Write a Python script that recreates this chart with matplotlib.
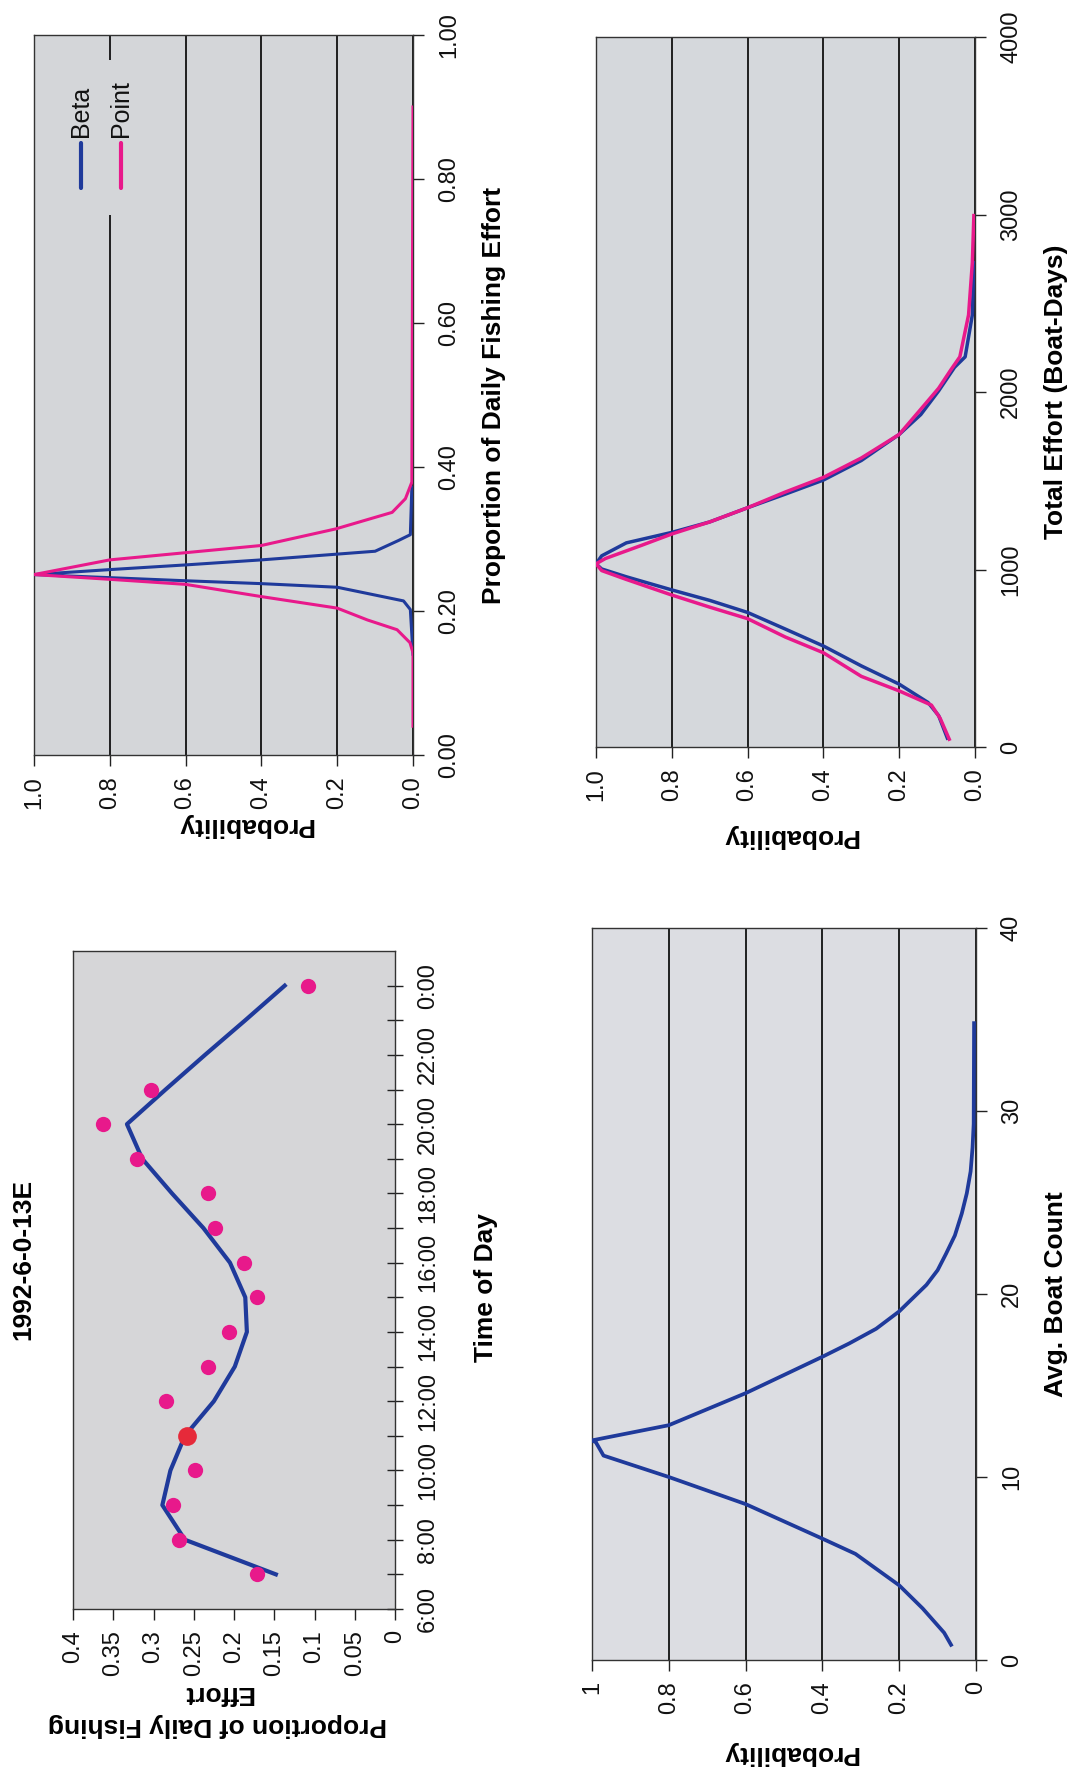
import matplotlib
matplotlib.use('Agg')
import matplotlib.pyplot as plt
from matplotlib.patches import Rectangle
from matplotlib.lines import Line2D

plt.rcParams['font.family'] = ['Liberation Sans', 'DejaVu Sans']

W, H, DPI = 1074, 1771, 100
BLUE = '#1f3a9b'
PINK = '#e8198b'
RED = '#e62a3a'

# ---------------- data ----------------
series_names = ['Beta', 'Point']

# Panel A: proportion of daily fishing effort
propA_beta_x = [0.14, 0.202, 0.214, 0.233, 0.238, 0.242, 0.2506, 0.2575, 0.264, 0.271, 0.279, 0.283, 0.298, 0.306, 0.372]
propA_beta_p = [0.0, 0.007, 0.025, 0.20, 0.40, 0.60, 1.0, 0.80, 0.60, 0.40, 0.20, 0.10, 0.038, 0.007, 0.003]
propA_point_x = [0.04, 0.142, 0.156, 0.174, 0.1875, 0.204, 0.22, 0.237, 0.244, 0.2506, 0.271, 0.281, 0.291, 0.314, 0.337, 0.356, 0.379, 0.90]
propA_point_p = [0.0, 0.0, 0.008, 0.042, 0.12, 0.20, 0.40, 0.60, 0.80, 1.0, 0.80, 0.60, 0.40, 0.204, 0.055, 0.02, 0.003, 0.0]

# Panel B: total effort (boat-days)
effB_beta_x = [50, 177, 251, 354, 457, 569, 664, 758, 826, 885, 959, 1003, 1032, 1077, 1150, 1209, 1268, 1348, 1425, 1504, 1614, 1761, 1873, 2006, 2139, 2198, 2434, 2729]
effB_beta_p = [0.073, 0.096, 0.124, 0.20, 0.30, 0.40, 0.50, 0.60, 0.70, 0.80, 0.92, 0.985, 1.0, 0.985, 0.92, 0.80, 0.70, 0.60, 0.50, 0.40, 0.30, 0.20, 0.143, 0.096, 0.054, 0.026, 0.007, 0.003]
effB_point_x = [44, 162, 236, 316, 398, 531, 619, 723, 788, 856, 944, 994, 1032, 1062, 1136, 1200, 1268, 1348, 1437, 1519, 1628, 1761, 1903, 2021, 2124, 2198, 2434, 2729, 2994]
effB_point_p = [0.068, 0.092, 0.115, 0.20, 0.30, 0.40, 0.50, 0.60, 0.70, 0.80, 0.92, 0.985, 1.0, 0.975, 0.88, 0.80, 0.70, 0.60, 0.50, 0.40, 0.30, 0.20, 0.143, 0.096, 0.064, 0.040, 0.017, 0.007, 0.003]

# Panel C: 1992-6-0-13E, effort by time of day
hours_line = [7, 8, 9, 10, 11, 12, 13, 14, 15, 16, 17, 18, 19, 20, 21, 22, 23, 24]
effort_line = [0.148, 0.261, 0.289, 0.279, 0.261, 0.225, 0.199, 0.184, 0.186, 0.205, 0.238, 0.277, 0.314, 0.333, 0.285, 0.236, 0.186, 0.137]
hours_pts = [7, 8, 9, 10, 11, 12, 13, 14, 15, 16, 17, 18, 19, 20, 21, 24]
effort_pts = [0.171, 0.268, 0.276, 0.249, 0.258, 0.284, 0.232, 0.206, 0.171, 0.187, 0.223, 0.232, 0.321, 0.363, 0.303, 0.108]
highlight_hour = 11
time_ticks = [6, 8, 10, 12, 14, 16, 18, 20, 22, 24]
time_labels = ['6:00', '8:00', '10:00', '12:00', '14:00', '16:00', '18:00', '20:00', '22:00', '0:00']
effort_ticks = [0, 0.05, 0.1, 0.15, 0.2, 0.25, 0.3, 0.35, 0.4]
effort_labels = ['0', '0.05', '0.1', '0.15', '0.2', '0.25', '0.3', '0.35', '0.4']

# Panel D: avg. boat count
boat_x = [0.83, 1.49, 2.82, 4.08, 5.8, 6.63, 8.52, 10.0, 11.17, 11.9, 12.0, 12.83, 14.58, 16.57, 17.3, 18.1, 19.05, 20.5, 21.3, 22.2, 23.2, 24.4, 25.5, 26.7, 28.0, 29.3, 34.8]
boat_p = [0.065, 0.083, 0.139, 0.20, 0.314, 0.40, 0.60, 0.80, 0.97, 0.99, 1.0, 0.80, 0.60, 0.40, 0.33, 0.26, 0.20, 0.129, 0.10, 0.078, 0.055, 0.037, 0.024, 0.014, 0.009, 0.006, 0.005]

prob_ticks = [0, 0.2, 0.4, 0.6, 0.8, 1.0]
prob_labels_1 = ['0.0', '0.2', '0.4', '0.6', '0.8', '1.0']
prob_labels_0 = ['0', '0.2', '0.4', '0.6', '0.8', '1']

# ---------------- figure ----------------
fig = plt.figure(figsize=(W / DPI, H / DPI), dpi=DPI)
fig.patch.set_facecolor('white')


def rect(x0, y0, x1, y1):
    return [x0 / W, 1 - y1 / H, (x1 - x0) / W, (y1 - y0) / H]


def fpt(x, y):
    return (x / W, 1 - y / H)


TICK_FS = 17
LAB_FS = 19


def style(ax, bg, grid=True):
    ax.set_facecolor(bg)
    for s in ax.spines.values():
        s.set_color('#333333')
        s.set_linewidth(1.0)
    ax.yaxis.tick_right()
    ax.yaxis.set_label_position('right')
    ax.tick_params(axis='both', which='both', direction='out', length=8, width=1,
                   color='#222222', labelsize=TICK_FS, labelcolor='#111111')
    ax.tick_params(axis='x', labelrotation=90, pad=7)
    ax.tick_params(axis='y', labelrotation=90, pad=10)
    if grid:
        ax.grid(axis='x', color='black', lw=1.2)
        ax.set_axisbelow(True)


def fix_ylabels(ax):
    for t in ax.get_yticklabels():
        t.set_va('center')
        t.set_ha('left')


def put_labels(ax, xlab, xpos, ylab, ypos, **kw):
    lx = ax.set_xlabel(xlab, rotation=180, fontsize=LAB_FS, fontweight='bold', **kw)
    lx.set_va('center')
    lx.set_ha('center')
    ax.xaxis.set_label_coords(*xpos)
    ly = ax.set_ylabel(ylab, rotation=90, fontsize=LAB_FS, fontweight='bold')
    ly.set_va('center')
    ly.set_ha('center')
    ax.yaxis.set_label_coords(*ypos)


# ---- Panel A ----
axA = fig.add_axes(rect(34, 35, 413, 755))
style(axA, '#d4d6d9')
axA.plot(propA_beta_p, propA_beta_x, color=BLUE, lw=2.2, zorder=3)
axA.plot(propA_point_p, propA_point_x, color=PINK, lw=2.2, zorder=4)
axA.set_xlim(1.0, 0.0)
axA.set_ylim(0, 1.0)
axA.set_xticks(prob_ticks, labels=prob_labels_1)
axA.set_yticks([0, 0.2, 0.4, 0.6, 0.8, 1.0], labels=['0.00', '0.20', '0.40', '0.60', '0.80', '1.00'])
fix_ylabels(axA)
put_labels(axA, 'Probability', (0.557, -0.097), 'Proportion of Daily Fishing Effort', (1.214, 0.5))

# legend (drawn rotated like the page)
fig.add_artist(Rectangle(fpt(58, 215), 84 / W, 155 / H, transform=fig.transFigure,
                         facecolor='#d4d6d9', edgecolor='none', zorder=2))
for name, col, xc in zip(series_names, [BLUE, PINK], [81, 121]):
    fig.add_artist(Line2D([xc / W, xc / W], [1 - 143 / H, 1 - 188 / H], transform=fig.transFigure,
                          color=col, lw=3, solid_capstyle='round', zorder=3))
    fig.text(xc / W, 1 - 137 / H, name, rotation=90, ha='center', va='bottom',
             fontsize=18, color='#111111', zorder=3)

# ---- Panel B ----
axB = fig.add_axes(rect(596, 37, 975, 747))
style(axB, '#d5d8dc')
axB.plot(effB_beta_p, effB_beta_x, color=BLUE, lw=2.5, zorder=3)
axB.plot(effB_point_p, effB_point_x, color=PINK, lw=2.5, zorder=4)
axB.set_xlim(1.0, 0.0)
axB.set_ylim(0, 4000)
axB.set_xticks(prob_ticks, labels=prob_labels_1)
axB.set_yticks([0, 1000, 2000, 3000, 4000], labels=['0', '1000', '2000', '3000', '4000'])
fix_ylabels(axB)
put_labels(axB, 'Probability', (0.512, -0.125), 'Total Effort (Boat-Days)', (1.214, 0.5))

# ---- Panel C ----
axC = fig.add_axes(rect(73, 951, 395, 1609))
style(axC, '#d6d6d8', grid=False)
axC.plot(effort_line, hours_line, color=BLUE, lw=3.0, zorder=3)
axC.plot(effort_pts, hours_pts, 'o', color=PINK, ms=11, mec='none', zorder=4)
hi = hours_pts.index(highlight_hour)
axC.plot([effort_pts[hi]], [highlight_hour], 'o', color=RED, ms=13.5, mec='none', zorder=5)
axC.set_xlim(0.4, 0.0)
axC.set_ylim(6, 25)
axC.set_xticks(effort_ticks, labels=effort_labels)
axC.set_yticks(time_ticks, labels=time_labels)
axC.set_yticks([h for h in range(7, 24, 2)], minor=True)
axC.tick_params(axis='y', which='both', direction='inout', length=12)
fix_ylabels(axC)
put_labels(axC, 'Proportion of Daily Fishing\nEffort', (0.45, -0.152), 'Time of Day', (1.283, 0.489),
           linespacing=1.45)
fig.text(23 / W, 1 - 1259 / H, '1992-6-0-13E', rotation=90, ha='center', va='center',
         fontsize=LAB_FS, fontweight='bold')

# ---- Panel D ----
axD = fig.add_axes(rect(592, 928, 976, 1660))
style(axD, '#dcdde2')
axD.plot(boat_p, boat_x, color=BLUE, lw=2.7, zorder=3)
axD.set_xlim(1.0, 0.0)
axD.set_ylim(0, 40)
axD.set_xticks(prob_ticks, labels=prob_labels_0)
axD.set_yticks([0, 10, 20, 30, 40], labels=['0', '10', '20', '30', '40'])
fix_ylabels(axD)
put_labels(axD, 'Probability', (0.516, -0.127), 'Avg. Boat Count', (1.208, 0.5))

fig.savefig('out.png', dpi=DPI, facecolor='white')
